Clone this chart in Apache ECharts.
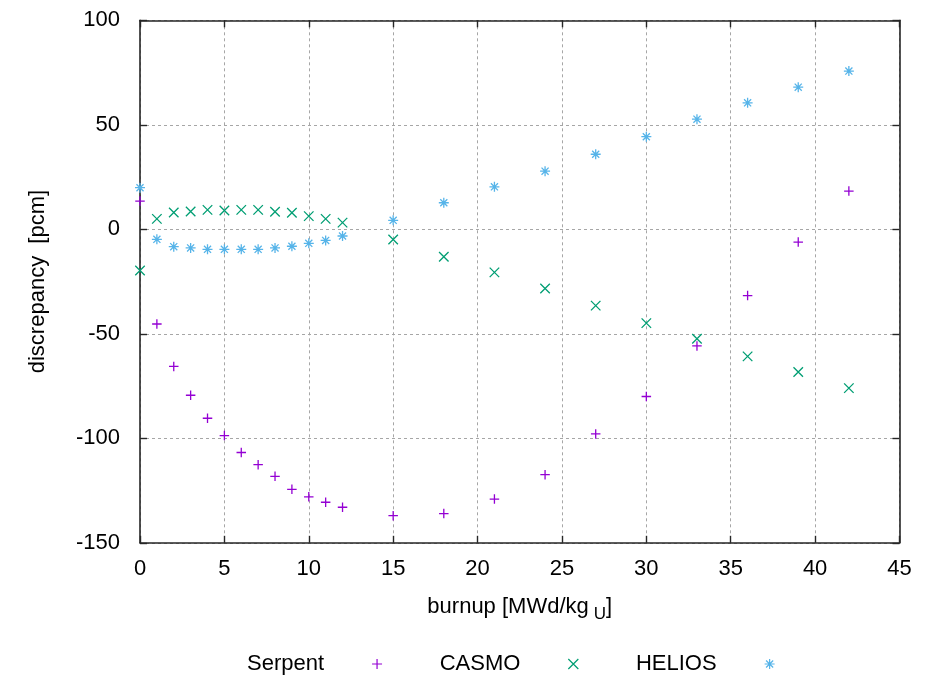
<!DOCTYPE html>
<html>
<head>
<meta charset="utf-8">
<script src="https://cdn.jsdelivr.net/npm/echarts@6/dist/echarts.min.js"></script>
<style>
  html, body { margin: 0; padding: 0; background: #fff; }
  #chart { width: 927px; height: 677px; }
</style>
</head>
<body>
<div id="chart"></div>
<script>
// Burnup steps [MWd/kgU]
const burnup = [0, 1, 2, 3, 4, 5, 6, 7, 8, 9, 10, 11, 12, 15, 18, 21, 24, 27, 30, 33, 36, 39, 42];

// Reactivity discrepancy [pcm] for each code
const serpent = [13.5, -45.3, -65.6, -79.4, -90.4, -98.7, -106.8, -112.6, -118.2, -124.4, -128.0, -130.6, -133.0,
                 -137.0, -136.0, -129.1, -117.4, -97.9, -80.0, -55.8, -31.7, -6.1, 18.3];
const casmo = [-19.7, 5.0, 8.0, 8.5, 9.3, 9.0, 9.3, 9.3, 8.4, 7.9, 6.3, 5.0, 3.2,
               -4.9, -13.1, -20.6, -28.3, -36.5, -44.9, -52.4, -60.8, -68.3, -76.0];
const helios = [19.9, -4.8, -8.3, -8.9, -9.6, -9.6, -9.6, -9.6, -8.9, -8.1, -6.7, -5.3, -3.2,
                4.3, 12.7, 20.3, 27.8, 35.9, 44.3, 52.7, 60.5, 68.0, 75.7];

// Axis ranges / ticks
const xMin = 0, xMax = 45, xStep = 5;
const yMin = -150, yMax = 100, yStep = 50;

const seriesNames = ['Serpent', 'CASMO', 'HELIOS'];
const seriesColors = ['#9400d3', '#009e73', '#56b4e9'];

// point glyphs: plus, cross, star (plus + short diagonals)
const plusPath = 'path://M0,5L10,5M5,0L5,10';
const crossPath = 'path://M0,0L10,10M10,0L0,10';
const starPath = 'path://M0,5L10,5M5,0L5,10M1.46,1.46L8.54,8.54M8.54,1.46L1.46,8.54';
const glyphs = [plusPath, crossPath, starPath];

const FONT = 'Liberation Sans';
const AXIS_COLOR = '#262626';

function pairs(ys) {
  return burnup.map((x, i) => [x, ys[i]]);
}

const chart = echarts.init(document.getElementById('chart'), null, { renderer: 'canvas' });

const gridLine = { show: true, lineStyle: { color: '#a6a6a6', width: 1, type: [3, 3] } };
const axisLine = { show: true, onZero: false, lineStyle: { color: AXIS_COLOR, width: 1.6 } };
const tick = { show: true, inside: true, length: 7, lineStyle: { color: AXIS_COLOR, width: 1.4 } };

const option = {
  backgroundColor: '#ffffff',
  animation: false,
  textStyle: { fontFamily: FONT },
  grid: { left: 140, right: 27.5, top: 20.3, bottom: 134.2, containLabel: false },
  xAxis: [
    {
      type: 'value', min: xMin, max: xMax, interval: xStep,
      position: 'bottom',
      axisLine: axisLine, axisTick: tick, splitLine: gridLine,
      axisLabel: { color: '#000', fontSize: 22, fontFamily: FONT, margin: 15 },
      name: '{a|burnup [MWd/kg}{sub|U}{a|]}',
      nameLocation: 'middle', nameGap: 53,
      nameTextStyle: {
        rich: {
          a: { fontSize: 22, fontFamily: FONT, color: '#000', lineHeight: 22, verticalAlign: 'top' },
          sub: { fontSize: 17, fontFamily: FONT, color: '#000', lineHeight: 17, verticalAlign: 'top', padding: [10, 0, 0, 5] }
        }
      }
    },
    {
      type: 'value', min: xMin, max: xMax, interval: xStep,
      position: 'top',
      axisLine: axisLine, axisTick: tick, splitLine: { show: false },
      axisLabel: { show: false }
    }
  ],
  yAxis: [
    {
      type: 'value', min: yMin, max: yMax, interval: yStep,
      position: 'left',
      axisLine: axisLine, axisTick: tick, splitLine: gridLine,
      axisLabel: { color: '#000', fontSize: 22, fontFamily: FONT, margin: 20 },
      name: 'discrepancy  [pcm]',
      nameLocation: 'middle', nameGap: 91,
      nameTextStyle: { fontSize: 22, fontFamily: FONT, color: '#000' }
    },
    {
      type: 'value', min: yMin, max: yMax, interval: yStep,
      position: 'right',
      axisLine: axisLine, axisTick: tick, splitLine: { show: false },
      axisLabel: { show: false }
    }
  ],
  legend: {
    left: 247, top: 653, padding: 0,
    align: 'right',
    itemWidth: 96, itemHeight: 10, itemGap: 57,
    symbolKeepAspect: true,
    textStyle: { fontSize: 22, fontFamily: FONT, color: '#000' },
    data: seriesNames.map((n, i) => ({
      name: n,
      icon: glyphs[i],
      itemStyle: { color: seriesColors[i], borderColor: seriesColors[i], borderWidth: 1.2 }
    }))
  },
  series: [serpent, casmo, helios].map((ys, i) => ({
    name: seriesNames[i],
    type: 'scatter',
    xAxisIndex: 0, yAxisIndex: 0,
    symbol: glyphs[i],
    symbolSize: i === 2 ? 10 : 9.5,
    symbolKeepAspect: true,
    itemStyle: { color: seriesColors[i], borderColor: seriesColors[i], borderWidth: 1.3, opacity: 1 },
    emphasis: { disabled: true },
    data: pairs(ys)
  }))
};

chart.setOption(option);
</script>
</body>
</html>
